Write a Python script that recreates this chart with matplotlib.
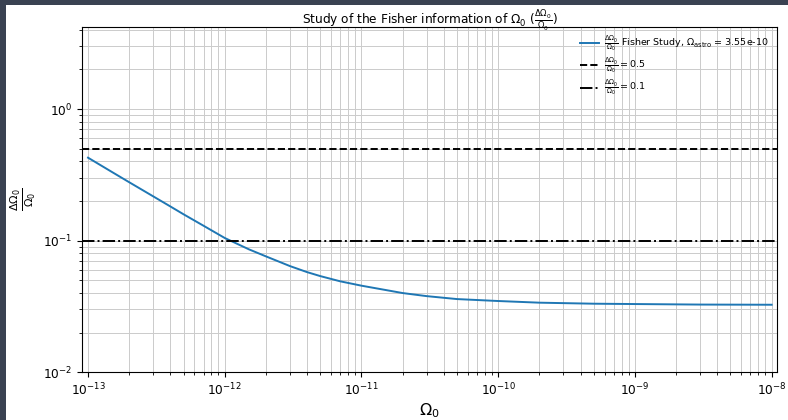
import numpy as np
import matplotlib
matplotlib.use("Agg")
import matplotlib.pyplot as plt
from matplotlib.patches import Rectangle

# Data
omega0 = [1e-13, 1.5e-13, 2e-13, 3e-13, 4e-13, 5e-13, 7e-13, 1e-12,
          1.5e-12, 2e-12, 3e-12, 4e-12, 5e-12, 7e-12, 1e-11, 2e-11, 3e-11,
          5e-11, 1e-10, 2e-10, 5e-10, 1e-9, 3e-9, 1e-8]
rel_err = [0.427, 0.332, 0.278, 0.217, 0.182, 0.1586, 0.1298, 0.1048,
           0.086, 0.076, 0.0641, 0.0577, 0.0538, 0.0491, 0.0455, 0.0400, 0.0379,
           0.0360, 0.0348, 0.0338, 0.0332, 0.0330, 0.0327, 0.0326]
ref_levels = [0.5, 0.1]
ref_labels = [r"$\frac{\Delta\Omega_0}{\Omega_0} = 0.5$", r"$\frac{\Delta\Omega_0}{\Omega_0} = 0.1$"]
ref_styles = ["--", "-."]
omega_astro = "3.55e-10"

fig = plt.figure(figsize=(7.88, 4.2), dpi=100)
fig.patch.set_facecolor("#3a4252")
fig.patches.append(Rectangle((6 / 788, 0), 1, 1 - 5 / 420, transform=fig.transFigure,
                             facecolor="white", edgecolor="none", zorder=-10))
ax = fig.add_axes([82 / 788, 47.7 / 420, (776.7 - 82) / 788, (372.3 - 27) / 420])

ax.plot(omega0, rel_err, color="#1f77b4", lw=1.4,
        label=r"$\frac{\Delta\Omega_0}{\Omega_0}$ Fisher Study, $\Omega_{\mathrm{astro}}$ = " + omega_astro)
for lev, lab, st in zip(ref_levels, ref_labels, ref_styles):
    ax.axhline(lev, color="black", ls=st, lw=1.4, label=lab)

ax.set_xscale("log")
ax.set_yscale("log")
ax.set_xlim(10 ** -13.044, 10 ** -7.963)
ax.set_ylim(0.01, 4.2)
ax.grid(True, which="both", color="#cccccc", lw=0.72)
ax.set_axisbelow(True)
ax.tick_params(labelsize=8.7)
ax.set_title(r"Study of the Fisher information of $\Omega_0$ ($\frac{\Delta\Omega_0}{\Omega_0}$)",
             fontsize=8.7, y=1.0, pad=2.2)
ax.set_xlabel(r"$\Omega_0$", fontsize=11.5, labelpad=2)
ax.set_ylabel(r"$\frac{\Delta\Omega_0}{\Omega_0}$", fontsize=11.5)
ax.yaxis.set_label_coords(-0.064, 0.5)
ax.legend(loc="upper right", frameon=False, fontsize=6.8, labelspacing=0.35,
          borderaxespad=0.4, handletextpad=0.6)
fig.savefig("out.png", dpi=100, facecolor=fig.get_facecolor())
